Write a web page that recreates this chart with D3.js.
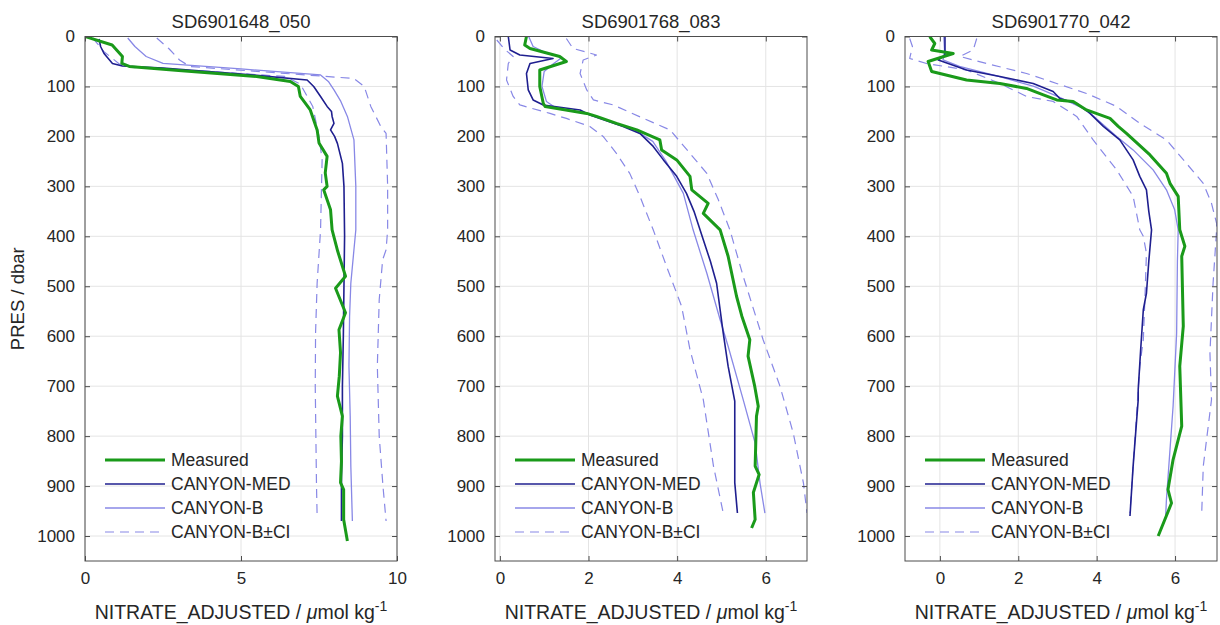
<!DOCTYPE html>
<html>
<head>
<meta charset="utf-8">
<script src="https://cdn.jsdelivr.net/npm/d3@7"></script>
<style>
  body { margin: 0; background: #fff; }
  svg { display: block; font-family: "Liberation Sans", Arial, sans-serif; }
</style>
</head>
<body>
<svg id="chart" width="1220" height="625"></svg>
<script>
// ---- data ----
const titles = ["SD6901648_050", "SD6901768_083", "SD6901770_042"];
const xDomains = [[0, 10], [-0.11, 6.93], [-0.89, 7.07]];
const xTicks = [[0, 5, 10], [0, 2, 4, 6], [0, 2, 4, 6]];
const presTicks = [0, 100, 200, 300, 400, 500, 600, 700, 800, 900, 1000];
const presDomain = [0, 1050];
const legendLabels = ["Measured", "CANYON-MED", "CANYON-B", "CANYON-B\u00B1CI"];

// each point: [pressure, nitrate]
const p1Measured = [[0,0],[17,0.87],[40,1.2],[54,1.18],[60,1.42],[68,3.0],[80,5.5],[90,6.58],[100,6.84],[120,6.9],[147,7.22],[187,7.44],[213,7.5],[240,7.76],[273,7.7],[300,7.76],[307,7.65],[347,7.87],[387,7.92],[430,8.1],[480,8.35],[504,8.03],[553,8.35],[587,8.14],[633,8.19],[680,8.15],[720,8.09],[760,8.25],[800,8.2],[850,8.22],[893,8.19],[907,8.29],[967,8.29],[1010,8.41]];
const p1Med = [[5,0.45],[20,0.5],[34,0.61],[54,0.88],[59,1.2],[63,2.5],[75,5.0],[87,7.12],[100,7.33],[120,7.55],[140,7.76],[150,7.9],[160,7.92],[174,7.98],[187,7.87],[200,8.0],[214,8.09],[254,8.25],[300,8.3],[400,8.32],[500,8.3],[600,8.28],[700,8.25],[800,8.25],[880,8.22],[970,8.22]];
const p1CanyonB = [[3,1.37],[20,1.6],[40,1.96],[54,2.5],[65,5.0],[77,7.55],[90,7.8],[107,7.98],[130,8.2],[160,8.41],[207,8.62],[300,8.68],[387,8.68],[427,8.62],[494,8.52],[560,8.48],[660,8.46],[760,8.5],[860,8.52],[970,8.57]];
const p1CiLow = [[3,0.25],[30,0.6],[55,1.1],[62,1.5],[70,4.0],[80,6.4],[95,6.9],[140,7.3],[200,7.5],[247,7.6],[387,7.55],[494,7.44],[593,7.39],[700,7.38],[800,7.4],[900,7.42],[960,7.44]];
const p1CiHigh = [[3,2.3],[25,2.7],[47,3.03],[60,3.36],[72,6.0],[84,8.62],[100,8.95],[140,9.16],[180,9.48],[194,9.65],[300,9.7],[387,9.7],[427,9.65],[447,9.54],[527,9.43],[660,9.37],[800,9.43],[900,9.55],[970,9.65]];

const p2Measured = [[0,0.6],[17,0.56],[24,0.68],[40,1.35],[50,1.5],[67,0.9],[100,0.9],[134,0.98],[140,1.02],[154,1.96],[160,2.18],[174,2.63],[187,3.09],[207,3.61],[227,3.65],[247,3.99],[280,4.29],[307,4.33],[334,4.7],[354,4.59],[387,4.97],[440,5.15],[520,5.34],[560,5.46],[607,5.64],[640,5.6],[700,5.75],[740,5.83],[760,5.79],[860,5.76],[877,5.85],[913,5.72],[967,5.76],[984,5.68]];
const p2Med = [[0,0.19],[27,0.23],[37,0.45],[44,1.2],[54,0.68],[74,0.6],[107,0.64],[127,0.75],[137,0.98],[147,1.81],[157,2.03],[180,2.78],[194,3.16],[220,3.46],[247,3.69],[280,3.99],[314,4.21],[350,4.38],[407,4.59],[450,4.75],[494,4.89],[594,5.04],[660,5.15],[730,5.3],[794,5.3],[893,5.3],[954,5.36]];
const p2CanyonB = [[0,0.65],[20,0.75],[35,1.1],[42,1.4],[55,1.2],[70,1.0],[100,0.95],[130,1.05],[145,1.3],[155,2.0],[170,2.5],[185,3.0],[210,3.45],[250,3.75],[314,4.14],[387,4.36],[474,4.67],[567,4.97],[620,5.15],[727,5.49],[814,5.76],[894,5.87],[954,5.98]];
const p2CiLow = [[7,-0.07],[25,0.1],[40,0.3],[54,0.19],[87,0.15],[120,0.3],[137,0.45],[154,1.13],[164,1.5],[180,2.03],[200,2.33],[234,2.63],[274,2.93],[320,3.16],[387,3.46],[460,3.76],[540,4.1],[627,4.29],[727,4.59],[860,4.82],[954,5.04]];
const p2CiHigh = [[4,1.5],[24,1.65],[37,2.18],[47,1.88],[74,1.81],[107,1.96],[127,2.11],[137,2.56],[164,3.24],[187,3.84],[234,4.29],[274,4.67],[327,4.93],[387,5.19],[480,5.49],[607,5.94],[700,6.32],[794,6.62],[894,6.85],[954,6.93]];

const p3Measured = [[0,-0.26],[14,-0.13],[27,-0.21],[34,0.34],[50,-0.3],[70,-0.21],[87,0.68],[94,1.53],[104,2.21],[117,2.64],[127,2.98],[130,3.4],[147,3.74],[164,4.34],[180,4.55],[194,4.76],[237,5.36],[274,5.78],[294,5.87],[320,6.08],[387,6.12],[420,6.25],[440,6.17],[580,6.21],[660,6.12],[780,6.17],[847,5.95],[907,5.82],[934,5.91],[1000,5.57]];
const p3Med = [[0,0.13],[37,0.13],[47,-0.04],[67,0.68],[80,1.53],[94,2.38],[110,2.89],[124,3.06],[134,3.49],[154,3.83],[180,4.17],[207,4.59],[247,4.93],[280,5.1],[307,5.27],[350,5.33],[387,5.4],[450,5.33],[514,5.27],[547,5.19],[630,5.12],[707,5.06],[727,5.06],[860,4.93],[960,4.85]];
const p3CanyonB = [[0,0.1],[30,0.12],[47,0.08],[60,0.5],[80,1.5],[100,2.4],[120,3.0],[147,3.74],[200,4.51],[227,4.93],[267,5.44],[307,5.78],[347,5.99],[387,6.08],[450,6.06],[594,6.04],[740,5.95],[927,5.78],[960,5.76]];
const p3CiLow = [[4,-0.77],[20,-0.7],[44,-0.77],[54,-0.34],[67,0.68],[94,1.53],[107,1.87],[120,2.21],[130,2.89],[160,3.49],[207,3.91],[267,4.51],[320,4.93],[387,5.1],[400,5.19],[434,5.27],[527,5.23],[607,5.19],[660,5.1],[860,4.93],[954,4.85]];
const p3CiHigh = [[4,0.94],[27,0.85],[40,0.51],[54,1.19],[74,2.21],[94,2.98],[114,3.74],[140,4.51],[174,5.1],[207,5.78],[254,6.29],[294,6.72],[334,6.93],[374,7.06],[387,7.06],[494,6.97],[634,6.89],[727,6.93],[860,6.72],[954,6.68]];

const panelSeries = [
  [p1Measured, p1Med, p1CanyonB, p1CiLow, p1CiHigh],
  [p2Measured, p2Med, p2CanyonB, p2CiLow, p2CiHigh],
  [p3Measured, p3Med, p3CanyonB, p3CiLow, p3CiHigh]
];

// ---- styles ----
const styles = {
  measured: { color: "#1a9a1a", width: 3, dash: null },
  med: { color: "#1f1f8f", width: 1.6, dash: null },
  canyonB: { color: "#8888e6", width: 1.3, dash: null },
  ci: { color: "#8888e6", width: 1.2, dash: "9,6" }
};
const legendStyles = [styles.measured, styles.med, styles.canyonB, styles.ci];

const svg = d3.select("#chart");
svg.append("rect").attr("width", 1220).attr("height", 625).attr("fill", "#fff");

const boxLefts = [85, 495, 905];
const boxW = 312;
const plotTop = 36.5, plotBottom = 561;
const textColor = "#262626";
const fmt = d => String(d);

const y = d3.scaleLinear().domain(presDomain).range([plotTop, plotBottom]);

boxLefts.forEach((left, i) => {
  const x = d3.scaleLinear().domain(xDomains[i]).range([left, left + boxW]);
  const g = svg.append("g");

  // grid
  g.selectAll(".gx").data(xTicks[i]).enter().append("line")
    .attr("x1", d => x(d)).attr("x2", d => x(d))
    .attr("y1", plotTop).attr("y2", plotBottom)
    .attr("stroke", "#e4e4e4").attr("stroke-width", 1);
  g.selectAll(".gy").data(presTicks).enter().append("line")
    .attr("x1", left).attr("x2", left + boxW)
    .attr("y1", d => y(d)).attr("y2", d => y(d))
    .attr("stroke", "#e4e4e4").attr("stroke-width", 1);

  // lines, clipped to the box
  const clipId = "clip" + i;
  svg.append("clipPath").attr("id", clipId).append("rect")
    .attr("x", left).attr("y", plotTop).attr("width", boxW).attr("height", plotBottom - plotTop);

  const line = d3.line().x(d => x(d[1])).y(d => y(d[0]));
  const [meas, med, cb, lo, hi] = panelSeries[i];
  const draws = [[lo, styles.ci], [hi, styles.ci], [cb, styles.canyonB], [med, styles.med], [meas, styles.measured]];
  const lg = g.append("g").attr("clip-path", `url(#${clipId})`);
  draws.forEach(([data, st]) => {
    lg.append("path")
      .datum(data)
      .attr("d", line)
      .attr("fill", "none")
      .attr("stroke", st.color)
      .attr("stroke-width", st.width)
      .attr("stroke-linejoin", "round")
      .attr("stroke-dasharray", st.dash);
  });

  // axes (ticks inward, MATLAB style)
  const axB = g.append("g").attr("transform", `translate(0,${plotBottom})`)
    .call(d3.axisBottom(x).tickValues(xTicks[i]).tickFormat(fmt).tickSize(-5).tickPadding(11));
  const axT = g.append("g").attr("transform", `translate(0,${plotTop})`)
    .call(d3.axisTop(x).tickValues(xTicks[i]).tickSize(-5).tickFormat(""));
  const axL = g.append("g").attr("transform", `translate(${left},0)`)
    .call(d3.axisLeft(y).tickValues(presTicks).tickFormat(fmt).tickSize(-5).tickPadding(10));
  const axR = g.append("g").attr("transform", `translate(${left + boxW},0)`)
    .call(d3.axisRight(y).tickValues(presTicks).tickSize(-5).tickFormat(""));
  [axB, axT, axL, axR].forEach(a => {
    a.select(".domain").remove();
    a.selectAll("line").attr("stroke", "#4d4d4d");
    a.selectAll("text").attr("fill", textColor)
      .style("font-size", "17px")
      .style("font-family", '"Liberation Sans", Arial, sans-serif');
  });

  // box
  g.append("rect")
    .attr("x", left).attr("y", plotTop).attr("width", boxW).attr("height", plotBottom - plotTop)
    .attr("fill", "none").attr("stroke", "#4d4d4d").attr("stroke-width", 1);

  // title
  g.append("text")
    .attr("x", left + boxW / 2).attr("y", 28)
    .attr("text-anchor", "middle").attr("fill", textColor)
    .style("font-size", "18.5px")
    .text(titles[i]);

  // x label
  const xl = g.append("text")
    .attr("x", left + boxW / 2).attr("y", 619)
    .attr("text-anchor", "middle").attr("fill", textColor)
    .style("font-size", "19.5px");
  xl.append("tspan").text("NITRATE_ADJUSTED / ");
  xl.append("tspan").attr("font-style", "italic").text("\u03BC");
  xl.append("tspan").text("mol kg");
  xl.append("tspan").attr("dy", -8).style("font-size", "14px").text("-1");

  // legend (no box)
  const leg = g.append("g");
  legendLabels.forEach((lab, k) => {
    const ly = 460 + k * 24;
    const st = legendStyles[k];
    leg.append("line")
      .attr("x1", left + 20).attr("x2", left + 80)
      .attr("y1", ly).attr("y2", ly)
      .attr("stroke", st.color).attr("stroke-width", st.width)
      .attr("stroke-dasharray", st.dash);
    leg.append("text")
      .attr("x", left + 86).attr("y", ly + 6)
      .attr("fill", textColor)
      .style("font-size", "17.5px")
      .text(lab);
  });
});

// y label
svg.append("text")
  .attr("transform", `translate(24,${(plotTop + plotBottom) / 2}) rotate(-90)`)
  .attr("text-anchor", "middle").attr("fill", textColor)
  .style("font-size", "18.5px")
  .text("PRES / dbar");
</script>
</body>
</html>
